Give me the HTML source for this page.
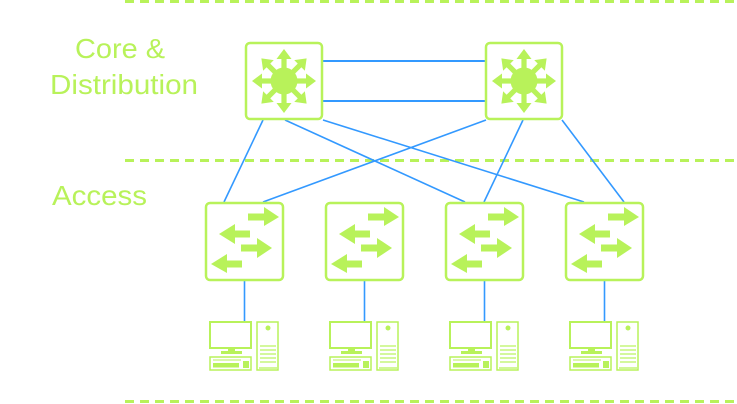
<!DOCTYPE html>
<html><head><meta charset="utf-8"><style>
html,body{margin:0;padding:0;background:#fff;}
svg{display:block;}
text{font-family:"Liberation Sans",sans-serif;fill:#b8f25a;font-size:28px;}
</style></head><body>
<svg width="737" height="404" viewBox="0 0 737 404" xmlns="http://www.w3.org/2000/svg">
<defs>
<g id="core">
  <rect x="1" y="1" width="76" height="76" rx="4" fill="#fff" stroke="#b8f25a" stroke-width="2.5"/>
  <g transform="translate(39,39)" fill="#b8f25a">
    <circle r="13.5"/>
    <g id="arm"><rect x="-2.6" y="-24" width="5.2" height="14"/><polygon points="-7.5,-22 7.5,-22 0,-32"/></g>
    <use href="#arm" transform="rotate(45)"/>
    <use href="#arm" transform="rotate(90)"/>
    <use href="#arm" transform="rotate(135)"/>
    <use href="#arm" transform="rotate(180)"/>
    <use href="#arm" transform="rotate(225)"/>
    <use href="#arm" transform="rotate(270)"/>
    <use href="#arm" transform="rotate(315)"/>
  </g>
</g>
<g id="acc">
  <rect x="1" y="1" width="77" height="77" rx="4" fill="#fff" stroke="#b8f25a" stroke-width="2.5"/>
  <g fill="#b8f25a">
    <polygon points="43,11.5 59,11.5 59,5 74,15 59,24 59,18.5 43,18.5"/>
    <polygon points="45,28.5 30,28.5 30,22 14,32 30,42 30,35.5 45,35.5"/>
    <polygon points="36,42.5 52,42.5 52,36 67,46 52,56 52,49.5 36,49.5"/>
    <polygon points="37,58.5 22,58.5 22,52 6,62 22,71 22,65.5 37,65.5"/>
  </g>
</g>
<g id="pc" fill="none" stroke="#b8f25a">
  <rect x="5" y="1" width="41" height="26" stroke-width="2"/>
  <rect x="23" y="27" width="7" height="4" fill="#b8f25a" stroke="none"/>
  <rect x="16" y="30" width="21" height="3" fill="#b8f25a" stroke="none"/>
  <rect x="5" y="36" width="41" height="13" stroke-width="1.5"/>
  <line x1="8" y1="39" x2="36" y2="39" stroke-width="1"/>
  <rect x="8" y="42" width="26" height="4.5" fill="#b8f25a" stroke="none"/>
  <rect x="38" y="40" width="6" height="7" fill="#b8f25a" stroke="none"/>
  <rect x="52" y="1" width="21" height="48" stroke-width="1.5"/>
  <circle cx="63" cy="7" r="2.5" fill="#b8f25a" stroke="none"/>
  <g stroke-width="1.2"><line x1="55" y1="25" x2="71" y2="25"/><line x1="55" y1="29" x2="71" y2="29"/><line x1="55" y1="33" x2="71" y2="33"/><line x1="55" y1="37" x2="71" y2="37"/><line x1="55" y1="41" x2="71" y2="41"/><line x1="54" y1="47" x2="72" y2="47"/></g>
</g>
</defs>
<g stroke="#b8f25a" stroke-width="3" stroke-dasharray="9 6">
  <line x1="125" y1="1.5" x2="737" y2="1.5"/>
  <line x1="125" y1="160.5" x2="737" y2="160.5"/>
  <line x1="125" y1="401.5" x2="737" y2="401.5"/>
</g>
<text x="75" y="58" textLength="90" lengthAdjust="spacingAndGlyphs">Core &amp;</text>
<text x="50" y="94" textLength="148" lengthAdjust="spacingAndGlyphs">Distribution</text>
<text x="52" y="205" textLength="95" lengthAdjust="spacingAndGlyphs">Access</text>
<g stroke="#3399ff" stroke-width="1.6">
  <line x1="323" y1="61" x2="485" y2="61" stroke-width="2"/>
  <line x1="323" y1="101" x2="485" y2="101" stroke-width="2"/>
  <line x1="263" y1="120" x2="224" y2="202"/>
  <line x1="285" y1="120" x2="465" y2="202"/>
  <line x1="323" y1="120" x2="584" y2="202"/>
  <line x1="486" y1="120" x2="263" y2="202"/>
  <line x1="523" y1="120" x2="484" y2="202"/>
  <line x1="562" y1="120" x2="624" y2="202"/>
  <line x1="244.5" y1="280" x2="244.5" y2="322"/>
  <line x1="364.5" y1="280" x2="364.5" y2="322"/>
  <line x1="484.5" y1="280" x2="484.5" y2="322"/>
  <line x1="604.5" y1="280" x2="604.5" y2="322"/>
</g>
<use href="#core" x="245" y="42"/>
<use href="#core" x="485" y="42"/>
<use href="#acc" x="205" y="202"/>
<use href="#acc" x="325" y="202"/>
<use href="#acc" x="445" y="202"/>
<use href="#acc" x="565" y="202"/>
<use href="#pc" x="205" y="321"/>
<use href="#pc" x="325" y="321"/>
<use href="#pc" x="445" y="321"/>
<use href="#pc" x="565" y="321"/>
</svg>
</body></html>
